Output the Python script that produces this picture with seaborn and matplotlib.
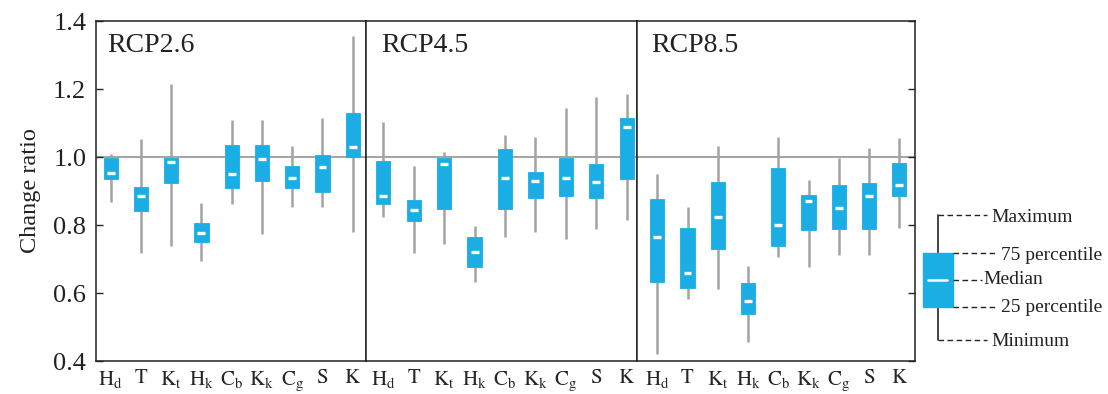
import numpy as np
import pandas as pd
import matplotlib
matplotlib.use("Agg")
import matplotlib.pyplot as plt
import seaborn as sns

# Variables on the x axis (mathtext labels) and the three scenarios
variables = ["Hd", "T", "Kt", "Hk", "Cb", "Kk", "Cg", "S", "K"]
var_labels = [r"$\mathrm{H_d}$", r"$\mathrm{T}$", r"$\mathrm{K_t}$", r"$\mathrm{H_k}$",
              r"$\mathrm{C_b}$", r"$\mathrm{K_k}$", r"$\mathrm{C_g}$", r"$\mathrm{S}$",
              r"$\mathrm{K}$"]
scenarios = ["RCP2.6", "RCP4.5", "RCP8.5"]

# Five-number summaries of the change ratio per scenario
rcp26_min = [0.869, 0.717, 0.739, 0.694, 0.861, 0.775, 0.852, 0.854, 0.778]
rcp26_q1  = [0.935, 0.840, 0.925, 0.750, 0.908, 0.929, 0.908, 0.896, 1.001]
rcp26_med = [0.953, 0.884, 0.984, 0.777, 0.950, 0.995, 0.938, 0.972, 1.030]
rcp26_q3  = [0.996, 0.911, 0.996, 0.805, 1.035, 1.035, 0.974, 1.007, 1.130]
rcp26_max = [1.009, 1.053, 1.214, 0.866, 1.109, 1.109, 1.033, 1.114, 1.356]

rcp45_min = [0.823, 0.717, 0.743, 0.631, 0.766, 0.778, 0.758, 0.787, 0.815]
rcp45_q1  = [0.862, 0.812, 0.846, 0.677, 0.846, 0.879, 0.885, 0.879, 0.935]
rcp45_med = [0.885, 0.845, 0.980, 0.720, 0.938, 0.928, 0.938, 0.926, 1.087]
rcp45_q3  = [0.989, 0.873, 0.996, 0.766, 1.024, 0.956, 0.996, 0.978, 1.114]
rcp45_max = [1.102, 0.975, 1.016, 0.797, 1.065, 1.058, 1.145, 1.177, 1.184]

rcp85_min = [0.420, 0.582, 0.612, 0.457, 0.705, 0.677, 0.712, 0.712, 0.792]
rcp85_q1  = [0.632, 0.616, 0.728, 0.537, 0.739, 0.785, 0.789, 0.789, 0.884]
rcp85_med = [0.764, 0.660, 0.823, 0.576, 0.800, 0.871, 0.851, 0.884, 0.919]
rcp85_q3  = [0.876, 0.792, 0.927, 0.630, 0.967, 0.889, 0.917, 0.923, 0.983]
rcp85_max = [0.951, 0.854, 1.032, 0.680, 1.060, 0.932, 0.998, 1.027, 1.055]

summaries = {
    "RCP2.6": [rcp26_min, rcp26_q1, rcp26_med, rcp26_q3, rcp26_max],
    "RCP4.5": [rcp45_min, rcp45_q1, rcp45_med, rcp45_q3, rcp45_max],
    "RCP8.5": [rcp85_min, rcp85_q1, rcp85_med, rcp85_q3, rcp85_max],
}

# Long table: five values per box reproduce min / quartiles / max exactly
rows = []
for sc, stats in summaries.items():
    for i, var in enumerate(variables):
        for s in stats:
            rows.append({"scenario": sc, "variable": var, "ratio": s[i]})
df = pd.DataFrame(rows)

BLUE = "#1BAEE4"
GREY = "#a3a3a3"

sns.set_theme(style="white")
plt.rcParams["font.family"] = ["Liberation Serif", "DejaVu Serif"]
plt.rcParams["mathtext.fontset"] = "stix"

fig = plt.figure(figsize=(11.08, 3.94), dpi=100)
W, H = 1108, 394
panel_px = [(96, 366), (366, 637), (637, 915)]
top_px, bot_px = 21, 361
xlims = [(-0.485, 8.44), (-0.57, 8.34), (-0.67, 8.52)]
title_x = [0.04, 0.055, 0.05]

axes = []
for k, (sc, (x0, x1)) in enumerate(zip(scenarios, panel_px)):
    ax = fig.add_axes([x0 / W, 1 - bot_px / H, (x1 - x0) / W, (bot_px - top_px) / H])
    axes.append(ax)
    sub = df[df["scenario"] == sc]
    ax.axhline(1.0, color=GREY, lw=1.4, zorder=0.5)
    sns.boxplot(data=sub, x="variable", y="ratio", order=variables, ax=ax,
                color=BLUE, saturation=1, width=0.47, whis=(0, 100),
                showfliers=False, showcaps=False, linewidth=0,
                boxprops={"edgecolor": BLUE, "linewidth": 0.6, "zorder": 3},
                whiskerprops={"color": GREY, "linewidth": 1.8, "zorder": 2},
                medianprops={"visible": False})
    # short white median bars
    sns.boxplot(data=sub, x="variable", y="ratio", order=variables, ax=ax,
                width=0.26, whis=(0, 100), showfliers=False, showcaps=False,
                showbox=False,
                whiskerprops={"visible": False},
                medianprops={"color": "white", "linewidth": 2.4, "zorder": 4})
    ax.set_xlim(*xlims[k])
    ax.set_ylim(0.4, 1.4)
    ax.set_xlabel("")
    ax.set_ylabel("")
    ax.set_xticks(range(len(variables)))
    ax.set_xticklabels(var_labels, fontsize=15)
    ax.tick_params(axis="x", length=0, pad=6)
    for sp in ax.spines.values():
        sp.set_visible(True)
        sp.set_color("#222222")
        sp.set_linewidth(1.1)
    ax.text(title_x[k], 0.965, sc, transform=ax.transAxes, ha="left", va="top",
            fontsize=20, color="#222222")

yt = [0.4, 0.6, 0.8, 1.0, 1.2, 1.4]
axes[0].set_yticks(yt)
axes[0].set_yticklabels([f"{v:.1f}" for v in yt], fontsize=19, color="#222222")
axes[0].tick_params(axis="y", direction="in", length=5, width=1, left=True, pad=7)
axes[0].set_ylabel("Change ratio", fontsize=17.5, color="#222222", labelpad=9)
axes[1].set_yticks([])
axes[2].set_yticks(yt)
axes[2].yaxis.tick_right()
axes[2].set_yticklabels([])
axes[2].tick_params(axis="y", direction="in", length=5, width=1, right=True, left=False)

# Box-plot key on the right, drawn in pixel coordinates
lg = fig.add_axes([915 / W, 0, (W - 915) / W, 1])
lg.set_xlim(915, W)
lg.set_ylim(H, 0)
lg.axis("off")
bx0, bx1, by0, by1 = 923, 953, 253, 307
wx = (bx0 + bx1) / 2
lg.plot([wx, wx], [215, 340], color="#222222", lw=1.2, zorder=1)
lg.add_patch(plt.Rectangle((bx0, by0), bx1 - bx0, by1 - by0, color=BLUE, zorder=2))
lg.plot([928, 947], [280, 280], color="white", lw=1.8, zorder=3)
dash = dict(color="#222222", lw=1.0, ls=(0, (4, 2.5)))
lg.plot([wx, 987], [215, 215], **dash)
lg.plot([wx, 987], [340, 340], **dash)
lg.plot([bx1, 998], [by0, by0], **dash)
lg.plot([bx1, 998], [by1, by1], **dash)
lg.plot([bx1, 982], [280, 280], **dash)
tkw = dict(fontsize=14, color="#222222", va="center", ha="left")
lg.text(991, 217, "Maximum", **tkw)
lg.text(1001, 255, "75 percentile", **tkw)
lg.text(983, 280, "Median", **tkw)
lg.text(1001, 307, "25 percentile", **tkw)
lg.text(991, 342, "Minimum", **tkw)

fig.savefig("out.png", dpi=100)
